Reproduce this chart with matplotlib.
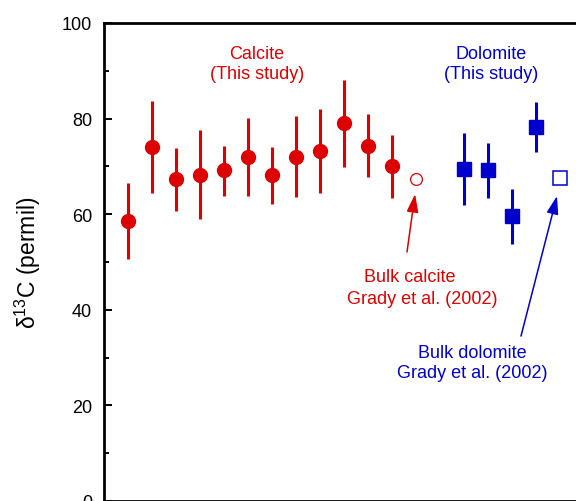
import matplotlib
matplotlib.use("Agg")
import matplotlib.pyplot as plt
from matplotlib.ticker import MultipleLocator

plt.rcParams["font.family"] = ["Liberation Sans", "DejaVu Sans"]
plt.rcParams["mathtext.fontset"] = "custom"
plt.rcParams["mathtext.rm"] = "Liberation Sans"
plt.rcParams["mathtext.default"] = "regular"

RED = "#DD0000"
BLUE = "#0000CC"

# calcite grains (this study)
calc_x = [1, 2, 3, 4, 5, 6, 7, 8, 9, 10, 11, 12]
calc_y = [58.6, 74.1, 67.4, 68.3, 69.2, 72.0, 68.2, 72.0, 73.3, 79.0, 74.3, 70.0]
calc_lo = [8.0, 9.6, 6.7, 9.4, 5.3, 8.1, 6.0, 8.5, 8.8, 9.2, 6.6, 6.7]
calc_hi = [7.9, 9.5, 6.4, 9.3, 5.0, 8.1, 5.8, 8.5, 8.7, 9.1, 6.7, 6.6]

# dolomite grains (this study)
dol_x = [15, 16, 17, 18]
dol_y = [69.5, 69.2, 59.6, 78.3]
dol_lo = [7.5, 5.9, 5.9, 5.2]
dol_hi = [7.5, 5.7, 5.7, 5.2]

# bulk values, Grady et al. (2002)
bulk_calc_x, bulk_calc_y = [13], [67.4]
bulk_dol_x, bulk_dol_y = [19], [67.5]

fig = plt.figure(figsize=(5.76, 5.02), dpi=100)
ax = fig.add_axes([104 / 576, 0.0, 480 / 576, 478 / 502])

ax.errorbar(calc_x, calc_y, yerr=[calc_lo, calc_hi], fmt="o", color=RED,
            ms=10, elinewidth=2.2, capsize=0, zorder=3)
ax.errorbar(dol_x, dol_y, yerr=[dol_lo, dol_hi], fmt="s", color=BLUE,
            ms=10, elinewidth=2.2, capsize=0, zorder=3)
ax.plot(bulk_calc_x, bulk_calc_y, "o", ms=8.5, mfc="white", mec=RED, mew=0.9, zorder=3)
ax.plot(bulk_dol_x, bulk_dol_y, "s", ms=10, mfc="white", mec=BLUE, mew=1.1, zorder=3)

ax.text(6.375, 91.5, "Calcite\n(This study)", color=RED, fontsize=13,
        ha="center", va="center", multialignment="center")
ax.text(16.125, 91.5, "Dolomite\n(This study)", color=BLUE, fontsize=13,
        ha="center", va="center", multialignment="center")
ax.text(12.75, 46.9, "Bulk calcite", color=RED, fontsize=13, ha="center", va="center")
ax.text(13.25, 42.3, "Grady et al. (2002)", color=RED, fontsize=13, ha="center", va="center")
ax.text(15.33, 29.0, "Bulk dolomite\nGrady et al. (2002)", color=BLUE, fontsize=13,
        ha="center", va="center", multialignment="center")

arrow = "-|>,head_length=0.55,head_width=0.18"
ax.annotate("", xy=(12.96, 64.2), xytext=(12.625, 52.1),
            arrowprops=dict(arrowstyle=arrow, color=RED, lw=1.1, mutation_scale=20,
                            shrinkA=0, shrinkB=0))
ax.annotate("", xy=(18.875, 63.8), xytext=(17.375, 34.5),
            arrowprops=dict(arrowstyle=arrow, color=BLUE, lw=1.1, mutation_scale=20,
                            shrinkA=0, shrinkB=0))

ax.set_xlim(0, 20)
ax.set_ylim(0, 100)
ax.set_xticks([])
ax.yaxis.set_major_locator(MultipleLocator(20))
ax.yaxis.set_minor_locator(MultipleLocator(10))
ax.tick_params(axis="y", which="both", direction="in", left=True, right=True,
               labelsize=13, pad=8.5, width=1.4)
ax.tick_params(axis="y", which="major", length=5.8)
ax.tick_params(axis="y", which="minor", length=3.6)
for sp in ax.spines.values():
    sp.set_linewidth(2.0)

ax.set_ylabel("δ$^{13}$C (permil)", fontsize=16.5)
ax.yaxis.set_label_coords(-0.128, 0.5)

fig.savefig("out.png", dpi=100)
